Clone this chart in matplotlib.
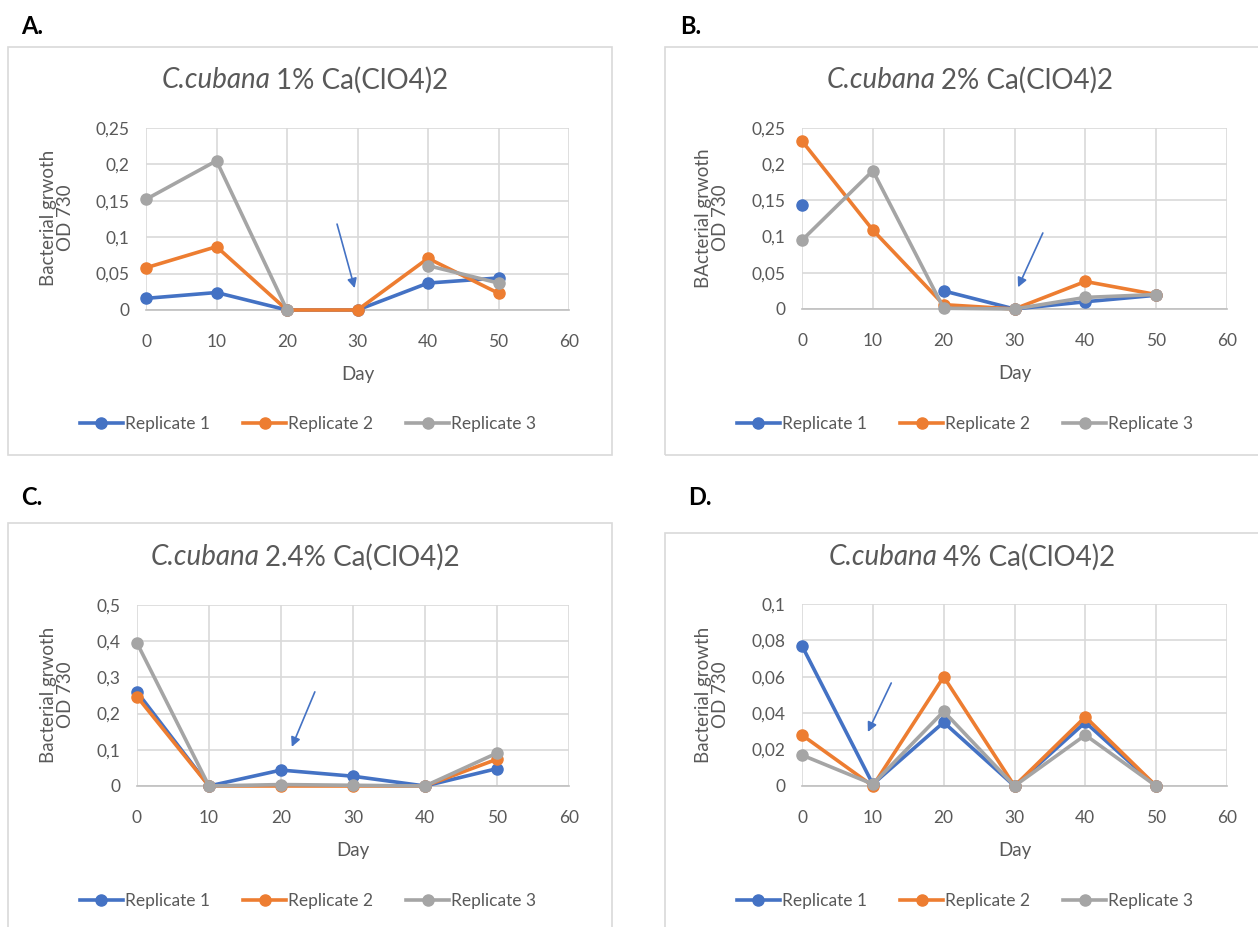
import numpy as np
import matplotlib
matplotlib.use("Agg")
import matplotlib.pyplot as plt
from matplotlib.patches import Rectangle
from matplotlib.lines import Line2D

plt.rcParams['font.family'] = ['Lato', 'DejaVu Sans']

# ---------------- data ----------------
days = [0, 10, 20, 30, 40, 50]
series_names = ["Replicate 1", "Replicate 2", "Replicate 3"]
colors = ["#4472C4", "#ED7D31", "#A5A5A5"]

a_rep1 = [0.016, 0.024, 0.0, 0.0, 0.037, 0.044]
a_rep2 = [0.058, 0.087, 0.0, 0.0, 0.071, 0.023]
a_rep3 = [0.152, 0.205, 0.0, np.nan, 0.061, 0.037]

b_rep1 = [0.144, np.nan, 0.025, 0.0, 0.010, 0.019]
b_rep2 = [0.232, 0.109, 0.006, 0.0, 0.038, 0.020]
b_rep3 = [0.095, 0.191, 0.001, 0.0, 0.016, 0.020]

c_rep1 = [0.260, 0.0, 0.044, 0.027, 0.0, 0.048]
c_rep2 = [0.247, 0.0, 0.0, 0.0, 0.0, 0.074]
c_rep3 = [0.395, 0.0, 0.004, 0.002, 0.0, 0.091]

d_rep1 = [0.077, 0.001, 0.035, 0.0, 0.035, 0.0]
d_rep2 = [0.028, 0.0, 0.060, 0.0, 0.038, 0.0]
d_rep3 = [0.017, 0.001, 0.041, 0.0, 0.028, 0.0]

panel_letters = ["A.", "B.", "C.", "D."]
species = "C.cubana"
concentrations = ["1%", "2%", "2.4%", "4%"]
ylabels = ["Bacterial grwoth\nOD 730", "BActerial grwoth\nOD 730",
           "Bacterial grwoth\nOD 730", "Bacterial growth\nOD 730"]
yticks_list = [[0, 0.05, 0.1, 0.15, 0.2, 0.25],
               [0, 0.05, 0.1, 0.15, 0.2, 0.25],
               [0, 0.1, 0.2, 0.3, 0.4, 0.5],
               [0, 0.02, 0.04, 0.06, 0.08, 0.1]]
yticklabels_list = [["0", "0,05", "0,1", "0,15", "0,2", "0,25"],
                    ["0", "0,05", "0,1", "0,15", "0,2", "0,25"],
                    ["0", "0,1", "0,2", "0,3", "0,4", "0,5"],
                    ["0", "0,02", "0,04", "0,06", "0,08", "0,1"]]
xticks = [0, 10, 20, 30, 40, 50, 60]
data = [[a_rep1, a_rep2, a_rep3], [b_rep1, b_rep2, b_rep3],
        [c_rep1, c_rep2, c_rep3], [d_rep1, d_rep2, d_rep3]]
# arrow (start, end) in data coords
arrows = [((27.1, 0.118), (29.6, 0.030)),
          ((34.0, 0.105), (30.5, 0.030)),
          ((24.7, 0.260), (21.5, 0.108)),
          ((12.6, 0.0566), (9.3, 0.0297))]

# ---------------- layout (pixels) ----------------
W, H = 1258, 927
fig = plt.figure(figsize=(W / 100, H / 100), dpi=100)
renderer = fig.canvas.get_renderer()

def fx(px):
    return px / W

def fy(py):
    return 1 - py / H

axes_px = [(146, 569, 128, 310), (802, 1227, 128, 309),
           (137, 569, 605, 786), (802, 1227, 604, 786)]
boxes_px = [(8, 612, 47, 455), (665, 1262, 47, 455),
            (8, 612, 523, 935), (665, 1262, 533, 935)]
letter_px = [(21, 27), (680, 27), (21, 497), (688, 497)]
title_px = [(305, 80), (970, 80), (305, 557), (972, 557)]
legend_px = [(308, 424), (965, 424), (308, 901), (965, 901)]
ylabel_px = [(57, 218), (712, 218), (57, 695), (712, 695)]

txt = "#595959"

for i in range(4):
    bx0, bx1, by0, by1 = boxes_px[i]
    fig.patches.append(Rectangle((fx(bx0), fy(by1)), fx(bx1 - bx0), (by1 - by0) / H,
                                 transform=fig.transFigure, fill=False,
                                 edgecolor="#d9d9d9", linewidth=1.2))
    x0, x1, y0, y1 = axes_px[i]
    ax = fig.add_axes([fx(x0), fy(y1), fx(x1 - x0), (y1 - y0) / H])
    yt = yticks_list[i]
    ax.set_xlim(0, 60)
    ax.set_ylim(0, yt[-1])
    ax.set_xticks(xticks)
    ax.set_xticklabels([str(t) for t in xticks])
    ax.set_yticks(yt)
    ax.set_yticklabels(yticklabels_list[i])
    ax.grid(True, color="#d9d9d9", linewidth=1.2)
    ax.set_axisbelow(True)
    for s in ["top", "right", "left"]:
        ax.spines[s].set_visible(False)
    ax.spines["bottom"].set_color("#bfbfbf")
    ax.spines["bottom"].set_linewidth(1.2)
    ax.tick_params(axis="both", length=0, colors=txt, labelsize=12.5)
    ax.tick_params(axis="x", pad=17)
    ax.tick_params(axis="y", pad=12)
    ax.set_xlabel("Day", color=txt, fontsize=13.5, labelpad=12)
    for k in range(3):
        ax.plot(days, data[i][k], color=colors[k], lw=2.6, marker="o",
                markersize=8, clip_on=False, zorder=3 + k)
    (sx, sy), (ex, ey) = arrows[i]
    ax.annotate("", xy=(ex, ey), xytext=(sx, sy),
                arrowprops=dict(arrowstyle="-|>", color="#4472C4", lw=1.2,
                                mutation_scale=14, shrinkA=0, shrinkB=0))
    fig.text(fx(ylabel_px[i][0]), fy(ylabel_px[i][1]), ylabels[i], rotation=90,
             ha="center", va="center", color=txt, fontsize=13.5,
             multialignment="center", linespacing=1.0)
    # title: italic species + normal rest, centred together
    ty = fy(title_px[i][1])
    t1 = fig.text(0, ty, species, style="italic", ha="left", va="center",
                  color=txt, fontsize=20)
    t2 = fig.text(0, ty, concentrations[i] + " Ca(ClO4)2", ha="left", va="center",
                  color=txt, fontsize=20)
    w1 = t1.get_window_extent(renderer).width
    w2 = t2.get_window_extent(renderer).width
    gap = 6
    start = title_px[i][0] - (w1 + gap + w2) / 2
    t1.set_x(fx(start))
    t2.set_x(fx(start + w1 + gap))
    fig.text(fx(letter_px[i][0]), fy(letter_px[i][1]), panel_letters[i],
             ha="left", va="center", color="black", fontsize=17, fontweight="bold")
    handles = [Line2D([], [], color=colors[k], lw=2.6, marker="o", markersize=8)
               for k in range(3)]
    fig.legend(handles, series_names, loc="center",
               bbox_to_anchor=(fx(legend_px[i][0]), fy(legend_px[i][1])),
               ncol=3, frameon=False, fontsize=12.5, labelcolor=txt,
               handlelength=2.5, handletextpad=0.1, columnspacing=1.9)

fig.savefig("out.png", dpi=100)
